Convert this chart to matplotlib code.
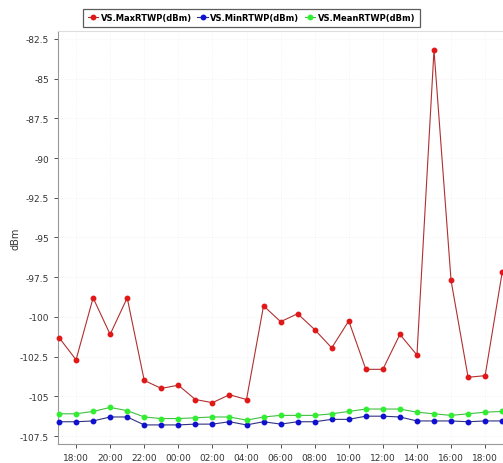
import matplotlib
matplotlib.use("Agg")
import matplotlib.pyplot as plt
from matplotlib.ticker import FuncFormatter

hours = ["17:00", "18:00", "19:00", "20:00", "21:00", "22:00", "23:00", "00:00", "01:00",
         "02:00", "03:00", "04:00", "05:00", "06:00", "07:00", "08:00", "09:00", "10:00",
         "11:00", "12:00", "13:00", "14:00", "15:00", "16:00", "17:00", "18:00", "19:00"]
max_rtwp = [-101.3, -102.7, -98.8, -101.1, -98.8, -104.0, -104.5, -104.3, -105.2,
            -105.4, -104.9, -105.2, -99.3, -100.3, -99.8, -100.8, -101.95, -100.25,
            -103.3, -103.3, -101.1, -102.4, -83.2, -97.7, -103.8, -103.7, -97.2]
min_rtwp = [-106.6, -106.6, -106.55, -106.3, -106.3, -106.8, -106.8, -106.8, -106.75,
            -106.75, -106.6, -106.8, -106.6, -106.75, -106.6, -106.6, -106.45, -106.45,
            -106.25, -106.25, -106.3, -106.55, -106.55, -106.55, -106.6, -106.55, -106.55]
mean_rtwp = [-106.1, -106.1, -105.95, -105.7, -105.9, -106.3, -106.4, -106.4, -106.35,
             -106.3, -106.3, -106.5, -106.3, -106.2, -106.2, -106.2, -106.1, -105.95,
             -105.8, -105.8, -105.8, -106.0, -106.1, -106.2, -106.1, -106.0, -105.95]
series_names = ["VS.MaxRTWP(dBm)", "VS.MinRTWP(dBm)", "VS.MeanRTWP(dBm)"]
yticks = [-82.5, -85, -87.5, -90, -92.5, -95, -97.5, -100, -102.5, -105, -107.5]

fig = plt.figure(figsize=(5.03, 4.64), dpi=100)
ax = fig.add_axes([0.1153, 0.041, 0.90, 0.890])
x = list(range(len(hours)))

styles = [(max_rtwp, "#b03030", "#e01818"),
          (min_rtwp, "#303080", "#1010d0"),
          (mean_rtwp, "#40c040", "#30ee30")]
handles = []
for (vals, lc, mc), name in zip(styles, series_names):
    h, = ax.plot(x, vals, color=lc, lw=0.8, marker="o", markersize=3.2,
                 markerfacecolor=mc, markeredgecolor=mc, label=name, clip_on=False, zorder=3)
    handles.append(h)

ax.set_xlim(-0.06, 26.5)
ax.set_ylim(-108, -82)
ax.set_yticks(yticks)
ax.yaxis.set_major_formatter(FuncFormatter(lambda v, p: "%g" % v))
ax.set_xticks(x[1::2])
ax.set_xticklabels(hours[1::2])
ax.tick_params(axis="both", labelsize=6.5, colors="#333333", length=3, width=0.6)
ax.grid(True, color="#eeeeee", lw=0.5, ls=":")
for s in ax.spines.values():
    s.set_color("#999999")
    s.set_linewidth(0.8)
ax.spines["top"].set_color("#dddddd")
ax.set_ylabel("dBm", fontsize=7, color="#333333")
ax.yaxis.set_label_coords(-0.082, 0.5)

leg = fig.legend(handles=handles, loc="upper center", bbox_to_anchor=(0.5, 0.988), ncol=3,
                 frameon=True, fancybox=False, edgecolor="#333333",
                 handlelength=1.3, handletextpad=0.3, columnspacing=0.6,
                 borderpad=0.55, prop={"size": 6, "weight": "bold"})
leg.get_frame().set_linewidth(0.9)

fig.savefig("out.png", dpi=100)
